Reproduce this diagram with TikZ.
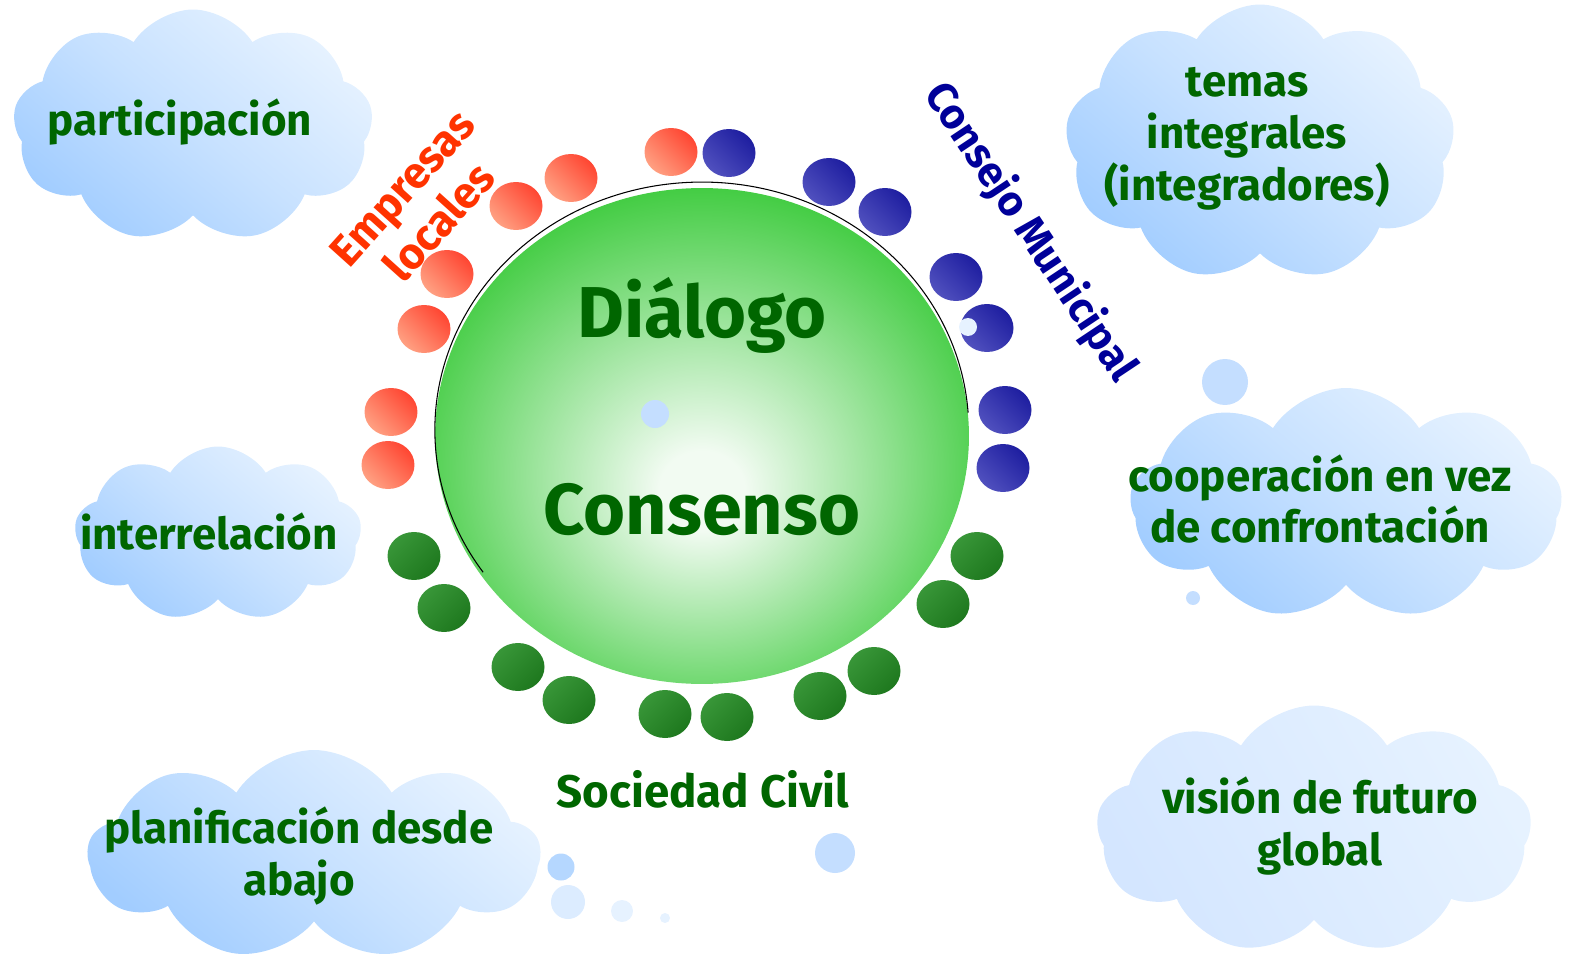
\documentclass[tikz,border=0pt]{standalone}
\usepackage{fontspec}
\setmainfont{Fira Sans}
\usetikzlibrary{shapes.geometric,shapes.symbols}
\definecolor{gcen}{RGB}{242,251,242}
\definecolor{gmain}{RGB}{58,202,58}
\definecolor{txtgreen}{RGB}{0,102,0}
\definecolor{txtred}{RGB}{255,51,0}
\definecolor{txtblue}{RGB}{0,0,153}
\definecolor{clouddark}{RGB}{162,205,255}
\definecolor{cloudlight}{RGB}{230,242,255}
\definecolor{cloudpale}{RGB}{212,230,255}
\definecolor{redlight}{RGB}{255,160,130}
\definecolor{reddark}{RGB}{255,70,50}
\definecolor{bluelight}{RGB}{80,80,190}
\definecolor{bluedark}{RGB}{30,30,160}
\definecolor{greenlight}{RGB}{56,150,56}
\definecolor{greendark}{RGB}{30,120,30}
\definecolor{bub}{RGB}{196,222,255}
\pgfdeclareradialshading{ballg}{\pgfpoint{0bp}{-6bp}}{color(0bp)=(gcen); color(4bp)=(gcen); color(29bp)=(gmain); color(50bp)=(gmain)}
\tikzset{
  cloudbox/.style={cloud, cloud puffs=9, cloud puff arc=115, cloud ignores aspect, inner sep=0pt,
    top color=cloudlight, bottom color=clouddark, middle color=cloudlight!55!clouddark, shading angle=-40},
  palecloud/.style={cloudbox, top color=cloudlight, bottom color=cloudpale, shading angle=-60},
  cloudtext/.style={text=txtgreen, font=\fontsize{25}{29.5}\selectfont\bfseries, align=center, inner sep=0pt},
  dotbase/.style={ellipse, minimum width=1.06cm, minimum height=0.96cm, inner sep=0pt},
  reddot/.style={dotbase, top color=reddark, bottom color=redlight, shading angle=-45},
  bluedot/.style={dotbase, top color=bluedark, bottom color=bluelight, shading angle=-45},
  greendot/.style={dotbase, top color=greendark, bottom color=greenlight, shading angle=-135},
  bubble/.style={circle, inner sep=0pt, fill=bub},
  bigtext/.style={text=txtgreen, font=\fontsize{41}{48}\selectfont\bfseries, inner sep=0pt},
  sidetext/.style={font=\fontsize{25}{28.5}\selectfont\bfseries, inner sep=0pt, align=center}
}
\begin{document}
\begin{tikzpicture}[x=0.02cm, y=-0.02cm]
\useasboundingbox (0,0) rectangle (1572,966);
% clouds
\node[cloudbox, minimum width=7.2cm, minimum height=4.66cm] (cl1) at (193,126) {};
\node[cloudbox, minimum width=5.74cm, minimum height=3.5cm] (cl2) at (218,534) {};
\node[cloudbox, minimum width=9.04cm, minimum height=4.2cm] (cl3) at (314,855) {};
\node[cloudbox, minimum width=7.8cm, minimum height=5.54cm] (cl4) at (1260,143) {};
\node[cloudbox, minimum width=8.64cm, minimum height=4.64cm] (cl5) at (1346,504) {};
\node[palecloud, minimum width=8.7cm, minimum height=4.98cm] (cl6) at (1314,830) {};
\node[cloudtext] (t1) at (180,122) {participación};
\node[cloudtext] (t2) at (209,532) {interrelación};
\node[cloudtext] (t3) at (299,856) {planificación desde\\abajo};
\node[cloudtext] (t4) at (1247,139) {temas\\integrales\\(integradores)};
\node[cloudtext] (t5) at (1320,499) {cooperación en vez\\de confrontación};
\node[cloudtext] (t6) at (1320,826) {visión de futuro\\global};
% bubbles
\node[bubble, minimum size=0.92cm] (b1) at (1225,382) {};
\node[bubble, minimum size=0.28cm] (b2) at (1193,598) {};
\node[bubble, minimum size=0.54cm, fill=clouddark!80!white] (b3) at (561,867) {};
\node[bubble, minimum size=0.68cm, fill=cloudlight!70!bub] (b4) at (568,902) {};
\node[bubble, minimum size=0.44cm, fill=cloudlight] (b5) at (622,911) {};
\node[bubble, minimum size=0.2cm, fill=cloudlight] (b6) at (665,918) {};
\node[bubble, minimum size=0.8cm] (b7) at (835,853) {};
% main ball
\node[ellipse, minimum width=10.68cm, minimum height=9.92cm, inner sep=0pt, shading=ballg] (main) at (702,436) {};
\draw[black, line width=0.6pt] (main.5) arc[start angle=4, end angle=215, x radius=5.34cm, y radius=4.96cm];
\node[bubble, minimum size=0.56cm] (b8) at (655,414) {};
\node[bigtext] (dia) at (702,315) {Diálogo};
\node[bigtext] (con) at (702,510) {Consenso};
% red dots
\node[reddot] (r1) at (671,152) {};
\node[reddot] (r2) at (571,178) {};
\node[reddot] (r3) at (516,206) {};
\node[reddot] (r4) at (447,274) {};
\node[reddot] (r5) at (424,329) {};
\node[reddot] (r6) at (391,412) {};
\node[reddot] (r7) at (388,465) {};
% blue dots
\node[bluedot] (u1) at (729,153) {};
\node[bluedot] (u2) at (829,182) {};
\node[bluedot] (u3) at (885,212) {};
\node[bluedot] (u4) at (956,277) {};
\node[bluedot] (u5) at (987,328) {};
\node[bluedot] (u6) at (1005,410) {};
\node[bluedot] (u7) at (1003,468) {};
\node[bubble, minimum size=0.36cm, fill=cloudlight] (b9) at (968,327) {};
% green dots
\node[greendot] (g1) at (414,556) {};
\node[greendot] (g2) at (444,608) {};
\node[greendot] (g3) at (518,667) {};
\node[greendot] (g4) at (569,700) {};
\node[greendot] (g5) at (665,714) {};
\node[greendot] (g6) at (727,717) {};
\node[greendot] (g7) at (820,696) {};
\node[greendot] (g8) at (874,671) {};
\node[greendot] (g9) at (977,556) {};
\node[greendot] (g10) at (943,604) {};
% labels
\node[sidetext, text=txtred, rotate=48] (emp) at (421,205) {Empresas\\locales};
\node[sidetext, text=txtblue, rotate=-56.3, font=\fontsize{24}{28}\selectfont\bfseries] (cm) at (1030,232) {Consejo Municipal};
\node[sidetext, text=txtgreen, font=\fontsize{26}{30}\selectfont\bfseries] (sc) at (703,789) {Sociedad Civil};
\end{tikzpicture}
\end{document}
